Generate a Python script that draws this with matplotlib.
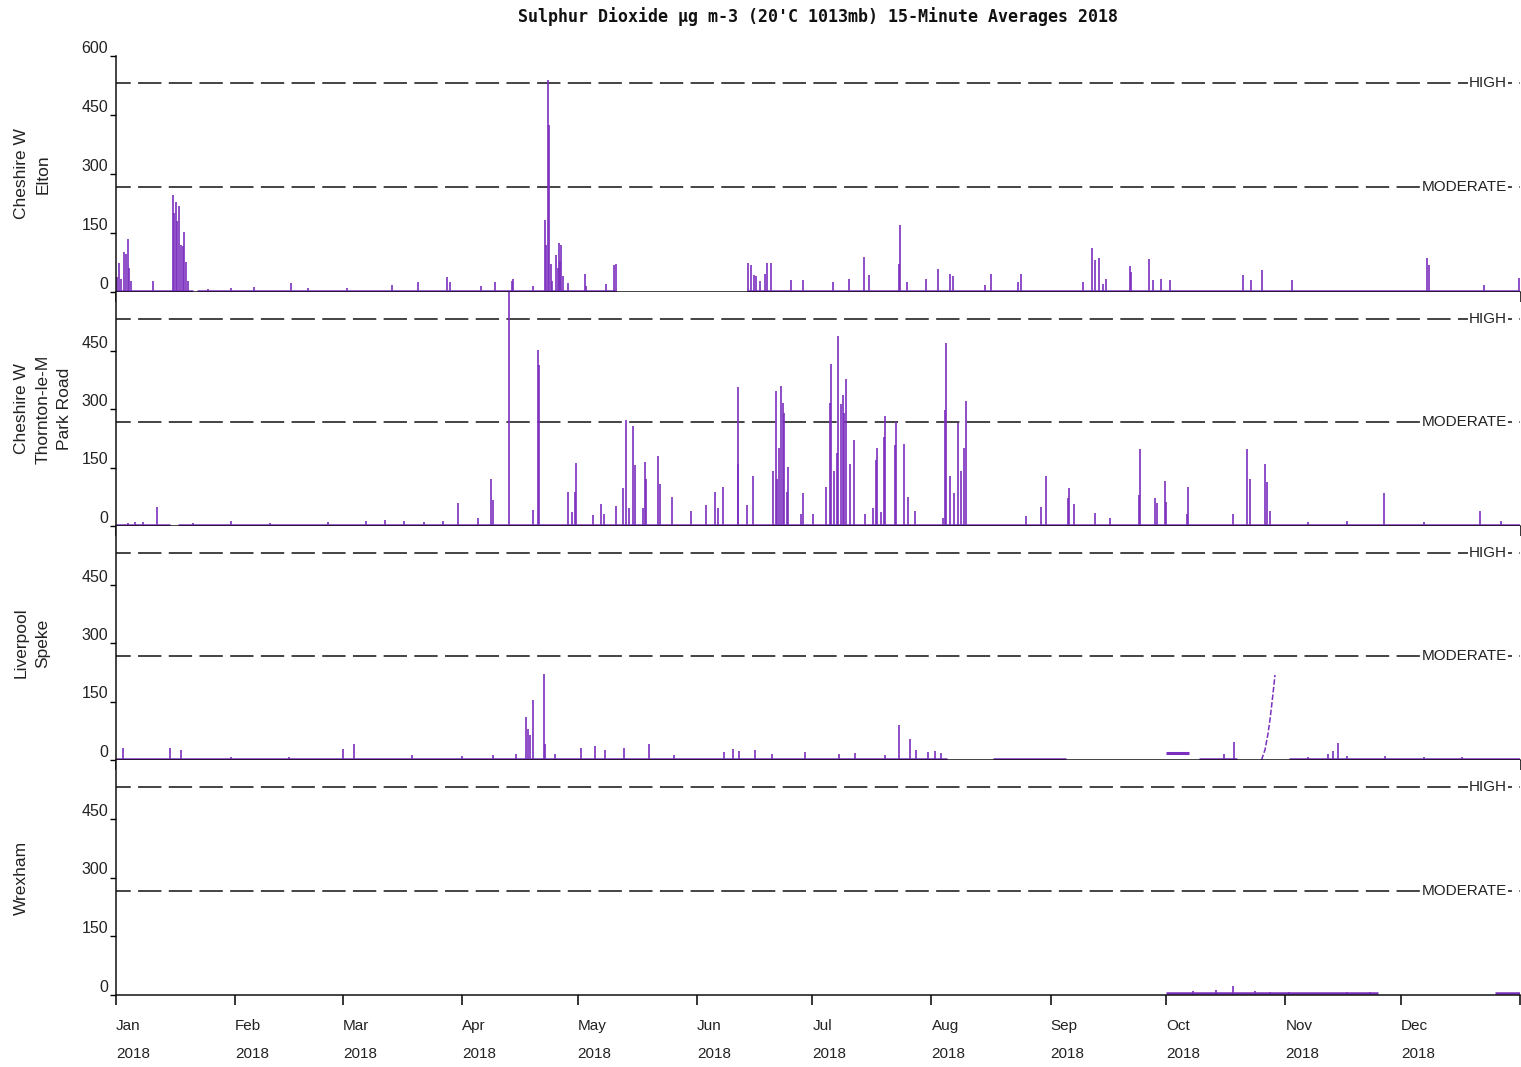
import matplotlib
matplotlib.use("Agg")
import matplotlib.pyplot as plt

plt.rcParams['font.family'] = ['Liberation Sans', 'DejaVu Sans']
plt.rcParams['lines.scale_dashes'] = False

TITLE = "Sulphur Dioxide \u00b5g m-3 (20'C 1013mb) 15-Minute Averages 2018"
SITES = ["Cheshire W\nElton", "Cheshire W\nThornton-le-M\nPark Road", "Liverpool\nSpeke", "Wrexham"]
HIGH = 532
MODERATE = 266
MONTH_STARTS = [0, 31, 59, 90, 120, 151, 181, 212, 243, 273, 304, 334]
MONTH_LABELS = ["Jan", "Feb", "Mar", "Apr", "May", "Jun", "Jul", "Aug", "Sep", "Oct", "Nov", "Dec"]
YEAR_LABEL = "2018"
YEAR_END = 365

# ---- Cheshire W Elton (day of year, peak value) ----
elton_days = [0.3, 0.7, 1.2, 2.1, 2.5, 3.0, 3.4, 3.9, 9.7, 14.9, 15.2, 15.6, 15.9, 16.4, 16.8,
              17.3, 17.7, 18.1, 18.8, 24, 30, 36, 45.6, 50, 60, 71.8, 78.6, 86, 86.8, 94.8, 98.5,
              103, 103.3, 108.4, 111.5, 111.8, 112.2, 112.6, 113, 113.3, 114.4, 114.8, 115.2, 115.5,
              115.8, 116.2, 117.6, 121.9, 122.3, 127.5, 129.5, 130, 164.3, 165, 165.8, 166.3, 167.4,
              168.6, 169.2, 170.4, 175.4, 178.6, 186.4, 190.5, 194.4, 195.7, 203.5, 203.8, 205.7,
              210.7, 213.6, 216.8, 217.5, 225.9, 227.4, 234.5, 235.4, 251.4, 253.8, 254.5, 255.5,
              256.6, 257.5, 263.6, 264, 268.6, 269.6, 271.6, 274, 292.9, 295, 298, 305.7, 340.7,
              341.4, 355.6, 364.8]
elton_vals = [39, 73, 33, 102, 97, 134, 60, 28, 28, 247, 200, 230, 180, 219, 120,
              117, 153, 77, 28, 8, 10, 12, 22, 10, 10, 17, 25, 39, 25, 16, 25,
              28, 32, 15, 183, 120, 539, 425, 70, 28, 94, 60, 125, 80,
              120, 40, 22, 47, 15, 20, 69, 72, 73, 68, 44, 40, 27,
              47, 73, 73, 30, 30, 25, 32, 90, 44, 72, 170, 25,
              32, 58, 47, 40, 19, 47, 25, 47, 25, 111, 81, 86,
              20, 32, 66, 52, 83, 30, 34, 30, 44, 30, 55, 30, 87,
              69, 18, 35]
elton_cover = [(0, 20), (21, 130), (164, 365)]
elton_base = 3

# ---- Cheshire W Thornton-le-M Park Road ----
thornton_days = [3, 5, 7, 10.6, 20, 30, 40, 55, 65, 70, 75, 80, 85, 89, 94, 97.6, 97.9, 102.2,
                 108.5, 109.6, 109.9, 117.6, 118.5, 119.3, 119.6, 124, 126, 126.8, 130, 131.7, 132.7,
                 133.4, 134.5, 134.8, 137, 137.5, 137.8, 140.8, 141.4, 144.5, 149.4, 153.5, 155.7,
                 156.5, 157.7, 161.6, 161.8, 164, 165.5, 170.9, 171.5, 171.8, 172.4, 172.8, 173.4,
                 173.7, 174.4, 174.8, 178, 178.7, 181.2, 184.7, 185.6, 185.8, 186.6, 187.5, 187.8,
                 188.4, 188.9, 189.2, 189.8, 190.8, 191.8, 194.8, 196.8, 197.6, 197.9, 198.8, 199.6,
                 199.9, 202.6, 202.9, 204.8, 205.9, 207.8, 214.9, 215.5, 215.8, 216.8, 217.8, 218.8,
                 219.8, 220.5, 220.9, 236.5, 240.5, 241.7, 247.4, 247.7, 249, 254.5, 258.5, 266,
                 266.2, 270, 270.6, 273, 272.8, 278.4, 278.7, 290.5, 294.1, 294.8, 298.7, 299.1,
                 300, 310, 320, 329.6, 340, 354.7, 360]
thornton_vals = [8, 10, 10, 49, 8, 12, 8, 10, 12, 15, 14, 10, 12, 60, 20, 120, 67, 640,
                 40, 451, 413, 86, 35, 86, 162, 28, 56, 30, 52, 97, 272,
                 47, 257, 156, 47, 165, 120, 179, 107, 74, 38, 55, 86,
                 45, 99, 160, 356, 55, 129, 142, 346, 120, 200, 359, 316,
                 290, 86, 152, 30, 84, 30, 99, 316, 415, 140, 188, 487,
                 313, 336, 290, 376, 159, 220, 30, 45, 168, 201, 35, 227,
                 282, 208, 267, 210, 74, 38, 20, 297, 470, 129, 84, 263,
                 142, 200, 321, 25, 50, 129, 72, 97, 56, 34, 20, 80,
                 197, 72, 60, 62, 116, 30, 99, 30, 197, 120, 158, 112,
                 38, 10, 12, 84, 10, 38, 12]
thornton_cover = [(0, 14), (16, 365)]
thornton_base = 3

# ---- Liverpool Speke ----
speke_days = [1.9, 14, 17, 30, 45, 59, 61.9, 77, 90, 98, 104, 106.6, 107.1, 107.6, 108.5, 111.3,
              111.6, 114, 121, 124.5, 127, 132, 138.6, 145, 158, 160.5, 162, 166, 170.5, 179, 188,
              192, 200, 203.5, 206.4, 208, 211, 213, 214.5, 288, 290.6, 310, 315, 316.5, 317.6,
              320, 330, 340, 350]
speke_vals = [32, 30, 25, 8, 8, 28, 41, 12, 10, 14, 15, 111, 80, 64, 154, 220,
              40, 15, 30, 36, 25, 30, 41, 12, 20, 28, 22, 25, 15, 20, 15,
              18, 12, 91, 53, 25, 20, 22, 18, 15, 47, 8, 15, 22, 44,
              10, 10, 8, 8]
speke_cover = [(0, 216), (228, 247), (281.5, 291.5), (305, 365)]
speke_base = 3
speke_cluster_cover = [(273, 279)]
speke_cluster_level = 18
speke_ramp_days = [297.8, 298.7, 299.5, 300.1, 300.8, 301.3]
speke_ramp_vals = [0, 26, 68, 111, 171, 218]

# ---- Wrexham ----
wrexham_days = [276, 280, 286, 290.4, 296, 300, 305, 315, 320, 326]
wrexham_vals = [6, 10, 12, 23, 10, 8, 7, 6, 7, 8]
wrexham_cover = [(273, 328), (358.5, 365)]
wrexham_base = 4

panels = [
    (elton_days, elton_vals, elton_cover, elton_base),
    (thornton_days, thornton_vals, thornton_cover, thornton_base),
    (speke_days, speke_vals, speke_cover, speke_base),
    (wrexham_days, wrexham_vals, wrexham_cover, wrexham_base),
]

PURPLE = "#7b2fbf"
W, H = 1521, 1067
fig = plt.figure(figsize=(W / 100, H / 100), dpi=100)

left_px, right_px = 116, 1520
tops = [56, 292, 526, 760]
bottoms = [292, 526, 760, 995]

axes = []
for i, (days, vals, cover, base) in enumerate(panels):
    ax = fig.add_axes([left_px / W, 1 - bottoms[i] / H, (right_px - left_px) / W,
                       (bottoms[i] - tops[i]) / H])
    axes.append(ax)
    ax.set_xlim(0, YEAR_END)
    ax.set_ylim(0, 600)
    for s in ("top", "right"):
        ax.spines[s].set_visible(False)
    for s in ("left", "bottom"):
        ax.spines[s].set_linewidth(1.1)
        ax.spines[s].set_color("#111111")

    # reference bands
    for lvl, lab in ((HIGH, "HIGH"), (MODERATE, "MODERATE")):
        ax.axhline(lvl, color="#111111", lw=1.1, linestyle=(6.2, (16.8, 5.3)), zorder=1)
        ax.annotate(lab, xy=(1, lvl), xycoords=("axes fraction", "data"),
                    xytext=(-13, 0), textcoords="offset pixels", ha="right", va="center",
                    fontsize=11, color="#222222",
                    bbox=dict(facecolor="white", edgecolor="none", pad=1.0), zorder=3)

    # data
    for (a, b) in cover:
        ax.hlines(base, a, b, color=PURPLE, lw=1.8, zorder=2)
    ax.vlines(days, 0, vals, color=PURPLE, lw=1.2, zorder=2)

    yt = [0, 150, 300, 450] + ([600] if i == 0 else [])
    ax.set_yticks(yt)
    ax.set_yticklabels([str(v) for v in yt])
    ax.tick_params(axis="y", direction="out", length=4.5, width=1, pad=1,
                   labelsize=11.5, labelcolor="#222222")
    for lab in ax.get_yticklabels():
        lab.set_verticalalignment("bottom")

    ax.set_xticks(MONTH_STARTS + [YEAR_END])
    ax.set_xticklabels([])
    ax.tick_params(axis="x", direction="out", length=7.2, width=1.1)

    fig.text(14 / W, 1 - (tops[i] + bottoms[i]) / 2 / H, SITES[i], rotation=90,
             ha="left", va="center", multialignment="center", fontsize=12.5,
             linespacing=1.55, color="#222222")

# Liverpool extras
ax3 = axes[2]
for (a, b) in speke_cluster_cover:
    ax3.hlines(speke_cluster_level, a, b, color=PURPLE, lw=2.2, zorder=2)
ax3.plot(speke_ramp_days, speke_ramp_vals, color=PURPLE, lw=1.1,
         linestyle=(0, (4, 1.5)), zorder=2)

# bottom month labels
axb = axes[-1]
for d, m in zip(MONTH_STARTS, MONTH_LABELS):
    axb.annotate(m, xy=(d, 0), xycoords=("data", "axes fraction"), xytext=(0, -31),
                 textcoords="offset pixels", ha="left", va="center", fontsize=11,
                 color="#222222")
    axb.annotate(YEAR_LABEL, xy=(d, 0), xycoords=("data", "axes fraction"), xytext=(0, -59),
                 textcoords="offset pixels", ha="left", va="center", fontsize=11,
                 color="#222222")

fig.text((left_px + right_px) / 2 / W, 1 - 17 / H, TITLE, ha="center", va="center",
         fontsize=12, fontweight="bold", family=["DejaVu Sans Mono"], color="#111111")

fig.savefig("out.png", dpi=100, facecolor="white")
